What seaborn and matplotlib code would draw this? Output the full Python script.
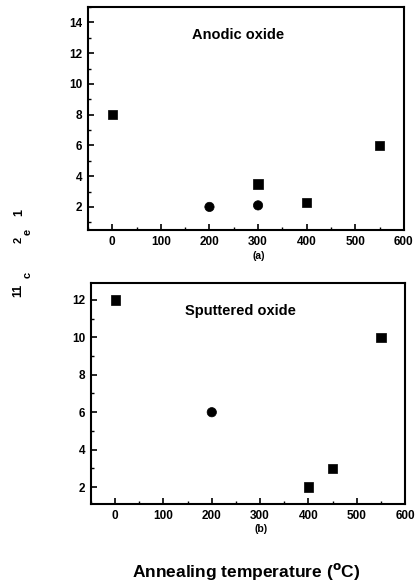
import matplotlib
matplotlib.use("Agg")
import matplotlib.pyplot as plt
import seaborn as sns
import pandas as pd
from matplotlib.ticker import MultipleLocator

sns.set_style("white")
plt.rcParams['font.family'] = ['Liberation Sans', 'DejaVu Sans']
plt.rcParams['font.weight'] = 'bold'
for k in ['text.color', 'axes.labelcolor', 'xtick.color', 'ytick.color']:
    plt.rcParams[k] = 'black'

# Panel (a): anodic oxide
a_sq_x = [0, 300, 400, 550]
a_sq_y = [8, 3.5, 2.3, 6]
a_ci_x = [200, 300]
a_ci_y = [2, 2.1]

# Panel (b): sputtered oxide
b_sq_x = [0, 400, 450, 550]
b_sq_y = [12, 2, 3, 10]
b_ci_x = [200]
b_ci_y = [6]

x_ticks = [0, 100, 200, 300, 400, 500, 600]
a_yticks = [2, 4, 6, 8, 10, 12, 14]
b_yticks = [2, 4, 6, 8, 10, 12]


def make_df(sx, sy, cx, cy):
    return pd.DataFrame({
        "T": list(sx) + list(cx),
        "v": list(sy) + list(cy),
        "kind": ["sq"] * len(sx) + ["ci"] * len(cx),
    })


fig = plt.figure(figsize=(4.2, 5.84), dpi=100)
ax1 = fig.add_axes([0.2095, 0.6062, 0.752, 0.3818])
ax2 = fig.add_axes([0.2167, 0.137, 0.7476, 0.3784])


def style(ax, df, ylim, yticks, label, tag):
    sns.scatterplot(data=df, x="T", y="v", style="kind",
                    markers={"sq": "s", "ci": "o"}, color="black",
                    s=45, edgecolor="black", linewidth=0.5, legend=False, ax=ax)
    ax.set_xlim(-50, 600)
    ax.set_ylim(*ylim)
    ax.set_xticks(x_ticks)
    ax.set_yticks(yticks)
    ax.xaxis.set_minor_locator(MultipleLocator(50))
    ax.yaxis.set_minor_locator(MultipleLocator(1))
    ax.tick_params(which="major", direction="in", length=4, width=1.2,
                   labelsize=8.5, bottom=True, left=True, top=False, right=False, pad=4)
    ax.tick_params(which="minor", direction="in", length=2, width=1,
                   bottom=True, left=True, top=False, right=False)
    for lab in ax.get_xticklabels() + ax.get_yticklabels():
        lab.set_fontweight("bold")
    for sp in ax.spines.values():
        sp.set_linewidth(1.5)
        sp.set_color("black")
    ax.set_xlabel("")
    ax.set_ylabel("")
    ax.text(0.475, 0.875, label, transform=ax.transAxes, ha="center", va="center",
            fontsize=10.5, fontweight="bold")
    ax.text(0.54, -0.115, tag, transform=ax.transAxes, ha="center", va="center",
            fontsize=7.5, fontweight="bold")


style(ax1, make_df(a_sq_x, a_sq_y, a_ci_x, a_ci_y), (0.5, 15), a_yticks,
      "Anodic oxide", "(a)")
style(ax2, make_df(b_sq_x, b_sq_y, b_ci_x, b_ci_y), (1.1, 12.9), b_yticks,
      "Sputtered oxide", "(b)")

fig.text(246 / 420, 1 - 572 / 584, "Annealing temperature ($\\mathbf{^{o}}$C)",
         ha="center", va="center", fontsize=12.5, fontweight="bold")

# garbled y-axis label fragments
for s, x, y, fs in [("11", 18, 290, 9), ("c", 28, 275, 8), ("2", 19, 240, 8),
                    ("e", 28, 232, 8), ("1", 19, 212, 9)]:
    fig.text(x / 420, 1 - y / 584, s, rotation=90, ha="center", va="center",
             fontsize=fs, fontweight="bold")

fig.savefig("out.png", dpi=100)
